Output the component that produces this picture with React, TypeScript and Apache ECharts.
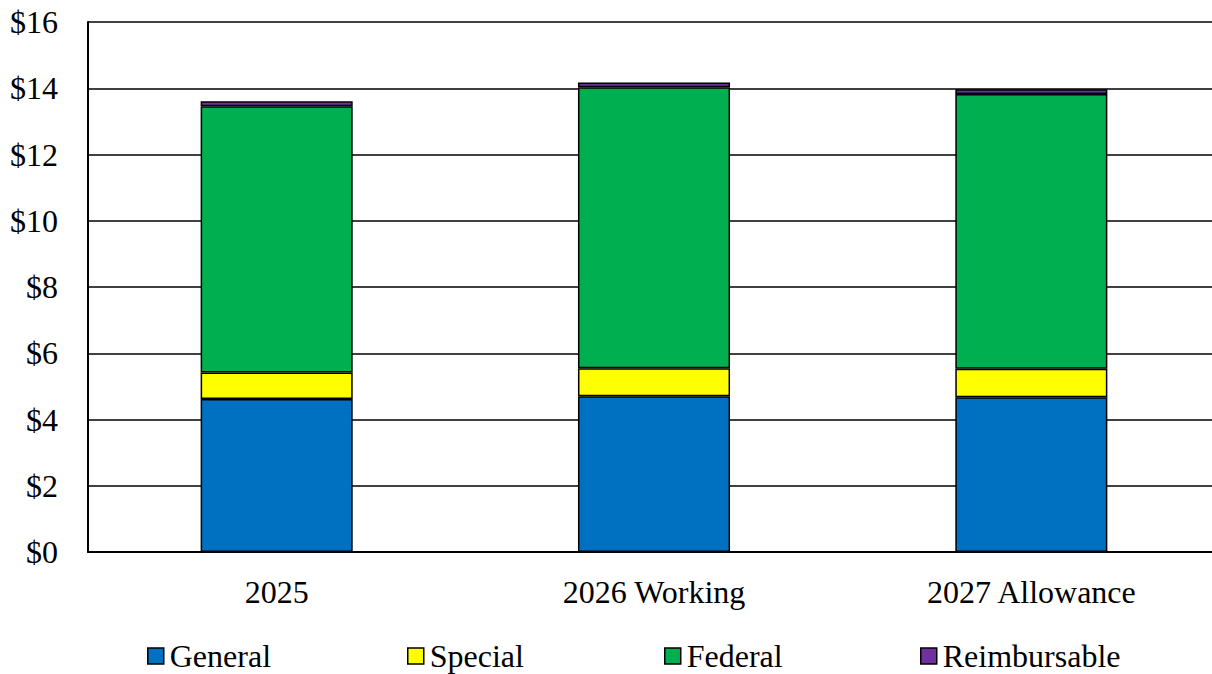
import React, { useEffect, useRef } from "react";
import * as echarts from "echarts";

const categories = ["2025", "2026 Working", "2027 Allowance"];
const general = [4.62, 4.7, 4.67];
const special = [0.8, 0.85, 0.86];
const federal = [8.04, 8.48, 8.3];
const reimbursable = [0.15, 0.14, 0.14];
const yTicks = [0, 2, 4, 6, 8, 10, 12, 14, 16];
const seriesNames = ["General", "Special", "Federal", "Reimbursable"];
const seriesColors = ["#0070C0", "#FFFF00", "#00B050", "#7030A0"];
const legendLefts = [147, 407, 664, 920];

const FONT = "Liberation Serif";
const FS = 32;

export default function App() {
  const ref = useRef<HTMLDivElement>(null);

  useEffect(() => {
    if (!ref.current) return;
    const chart = echarts.init(ref.current, null, { renderer: "svg" });
    const values = [general, special, federal, reimbursable];
    chart.setOption({
      animation: false,
      textStyle: { fontFamily: FONT },
      // plot area runs slightly past the visible right edge
      grid: { left: 88, right: 0, top: 22, bottom: 122 },
      legend: seriesNames.map((name, i) => ({
        left: legendLefts[i],
        top: 640,
        itemWidth: 16,
        itemHeight: 16,
        itemGap: 0,
        icon: "rect",
        padding: 0,
        itemStyle: { borderColor: "#000", borderWidth: 1.5 },
        textStyle: { fontFamily: FONT, fontSize: FS, color: "#000", padding: [0, 0, 0, 1] },
        data: [name],
      })),
      xAxis: {
        type: "category",
        data: categories,
        axisLine: { lineStyle: { color: "#000", width: 2 } },
        axisTick: { show: false },
        axisLabel: { fontFamily: FONT, fontSize: FS, color: "#000", margin: 24 },
      },
      yAxis: {
        type: "value",
        min: yTicks[0],
        max: yTicks[yTicks.length - 1],
        interval: 2,
        axisLine: { show: true, lineStyle: { color: "#000", width: 2 } },
        axisTick: { show: false },
        splitLine: { lineStyle: { color: "#000", width: 1.5 } },
        axisLabel: {
          fontFamily: FONT,
          fontSize: FS,
          color: "#000",
          margin: 30,
          formatter: (v: number) => "$" + v,
        },
      },
      series: seriesNames.map((name, i) => ({
        name,
        type: "bar",
        stack: "total",
        data: values[i],
        barWidth: "40.3%",
        itemStyle: { color: seriesColors[i], borderColor: "#000", borderWidth: 1.5 },
      })),
    });
    return () => chart.dispose();
  }, []);

  return (
    <div style={{ width: 1212, height: 674, position: "absolute", left: 0, top: 0, overflow: "hidden" }}>
      <div ref={ref} style={{ width: 1220, height: 674 }} />
    </div>
  );
}
